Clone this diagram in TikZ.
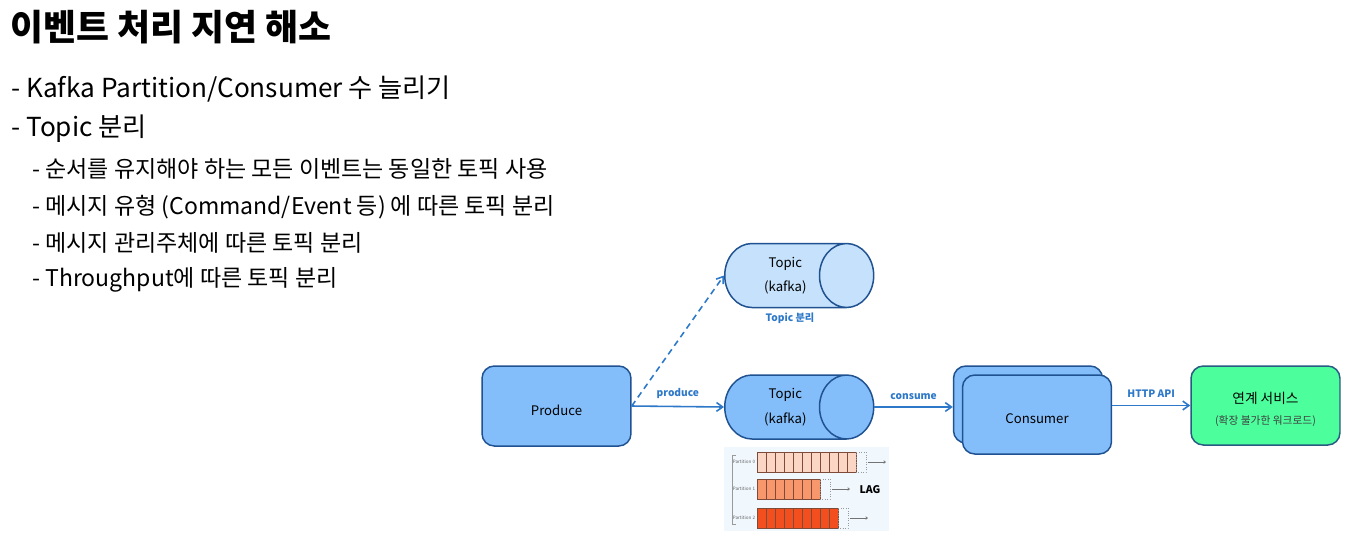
\documentclass[tikz,border=0pt]{standalone}
\usepackage{fontspec}
\setmainfont{Noto Sans CJK KR}
\usetikzlibrary{arrows.meta,calc,shapes.geometric,positioning}
\definecolor{boxblue}{RGB}{132,190,250}
\definecolor{boxedge}{RGB}{32,82,145}
\definecolor{topiclight}{RGB}{197,225,251}
\definecolor{linkblue}{RGB}{45,120,200}
\definecolor{svcgreen}{RGB}{76,255,156}
\definecolor{svcedge}{RGB}{40,90,130}
\definecolor{panelbg}{RGB}{240,247,253}
\definecolor{lagpale}{RGB}{252,214,197}
\definecolor{lagmid}{RGB}{248,150,108}
\definecolor{laghot}{RGB}{242,78,30}
\definecolor{cellline}{RGB}{125,75,55}
\newcommand{\lowered}[1]{\raisebox{-2.2pt}[\height][\depth]{#1}}

\begin{document}
\begin{tikzpicture}[
  x=0.02cm, y=-0.02cm,
  every node/.style={inner sep=0pt},
  bodytext/.style={font=\fontsize{7.5}{14}\selectfont},
  rbox/.style={draw=boxedge, fill=boxblue, line width=0.85pt, rounded corners=7pt,
    minimum width=2.98cm, minimum height=1.6cm, align=center, bodytext},
  topic/.style={cylinder, shape border rotate=0, draw=boxedge, line width=0.85pt,
    minimum width=1.28cm, minimum height=2.98cm, aspect=1.45, align=center,
    anchor=west, bodytext},
  flow/.style={-{Straight Barb[length=3.5pt,width=5pt]}, linkblue, line width=0.9pt},
  flowlabel/.style={linkblue, font=\bfseries\fontsize{5.8}{7}\selectfont},
  cell/.style={draw=cellline, line width=0.4pt},
]
\useasboundingbox (0,0) rectangle (1353,549);

%% ---- TEXT BLOCK ----
\node[anchor=west, font=\bfseries\fontsize{20.4}{24}\selectfont] (title) at (10,27)
  {이벤트 처리 지연 해소};
\node[anchor=west, font=\fontsize{14.9}{17}\selectfont] (itemone) at (11,89)
  {- Kafka Partition/Consumer 수 늘리기};
\node[anchor=west, font=\fontsize{14.9}{17}\selectfont] (itemtwo) at (11,129)
  {- Topic 분리};
\node[anchor=west, font=\fontsize{13.1}{15}\selectfont] (subone) at (32,169)
  {- 순서를 유지해야 하는 모든 이벤트는 동일한 토픽 사용};
\node[anchor=west, font=\fontsize{13.1}{15}\selectfont] (subtwo) at (32,207)
  {- 메시지 유형 (Command/Event 등) 에 따른 토픽 분리};
\node[anchor=west, font=\fontsize{13.1}{15}\selectfont] (subthree) at (32,243)
  {- 메시지 관리주체에 따른 토픽 분리};
\node[anchor=west, font=\fontsize{13.1}{15}\selectfont] (subfour) at (32,280)
  {- Throughput에 따른 토픽 분리};

%% ---- PIPELINE ----
\node[rbox] (produce) at (556.5,406) {\lowered{Produce}};

\node[topic, cylinder uses custom fill, cylinder body fill=boxblue,
      cylinder end fill=boxblue] (topic) at (724,407) {Topic\\(kafka)};
\node[topic, cylinder uses custom fill, cylinder body fill=topiclight,
      cylinder end fill=topiclight] (splittopic) at (724,275.5) {Topic\\(kafka)};
\node[flowlabel] (splitlabel) at (790,318) {Topic 분리};

% consumers (stacked)
\node[rbox, minimum height=1.54cm] (consumerback) at (1028,404.5) {};
\node[rbox, minimum height=1.58cm] (consumer) at (1037,414.5) {\lowered{Consumer}};

\node[rbox, fill=svcgreen, draw=svcedge, minimum height=1.58cm] (service) at (1265.5,405.5)
  {\lowered{\fontsize{7.8}{14}\selectfont 연계 서비스}\\[-1.5pt]
   \lowered{\fontsize{6.1}{7}\selectfont\color{black!75}(확장 불가한 워크로드)}};

% connectors
\draw[flow] (produce.east) -- node[flowlabel, above=4pt] {produce} (topic.west);
\draw[flow, dashed, dash pattern=on 3.5pt off 2.5pt] (produce.east) -- (splittopic.west);
\draw[flow] (topic.east) -- node[flowlabel, above=4pt] {consume} (topic.east -| consumerback.west);
\draw[flow] (consumer.east |- service.west) -- node[flowlabel, above=4pt] {HTTP API} (service.west);

%% ---- PARTITION LAG PANEL ----
\node[fill=panelbg, minimum width=3.3cm, minimum height=1.68cm] (lagpanel) at (806.5,489) {};
\draw[black!40, line width=0.4pt] (736,455) -- (732,455) -- (732,524) -- (736,524);
\foreach \p/\py/\n/\col in {0/452/11/lagpale, 1/479/7/lagmid, 2/508/9/laghot} {
  \node[black!60, font=\fontsize{2.6}{3}\selectfont] at (744,\py+10) {Partition \p};
  \foreach \c in {1,...,\n}
    \draw[cell, fill=\col] ({757+(\c-1)*9},\py) rectangle ++(9,20);
  \draw[black!40, densely dotted, line width=0.4pt] ({757+\n*9},\py) rectangle ++(10,20);
  \draw[black!55, line width=0.4pt, -{Straight Barb[length=1pt,width=1.5pt]}]
    ({769+\n*9},\py+10) -- ++(18,0);
}
\node[font=\bfseries\fontsize{6}{7}\selectfont] (lag) at (870,490) {LAG};

\end{tikzpicture}
\end{document}
